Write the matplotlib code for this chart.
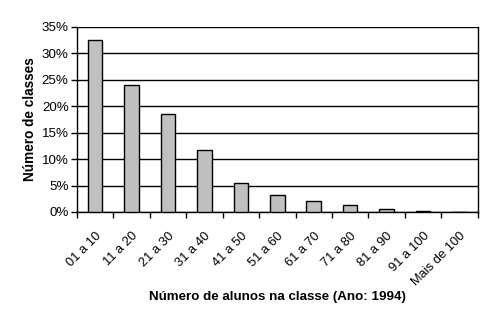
import matplotlib
matplotlib.use('Agg')
import matplotlib.pyplot as plt
from matplotlib.ticker import FuncFormatter
from matplotlib.transforms import ScaledTranslation

categorias = ['01 a 10', '11 a 20', '21 a 30', '31 a 40', '41 a 50', '51 a 60',
              '61 a 70', '71 a 80', '81 a 90', '91 a 100', 'Mais de 100']
percentuais = [32.4, 23.9, 18.6, 11.8, 5.4, 3.3, 2.0, 1.25, 0.5, 0.2, 0.0]
yticks = [0, 5, 10, 15, 20, 25, 30, 35]

plt.rcParams['font.family'] = ['Liberation Sans', 'DejaVu Sans']

fig = plt.figure(figsize=(4.92, 3.23), dpi=100, facecolor='white')
ax = fig.add_axes([77 / 492, 1 - 212 / 323, (477.7 - 77) / 492, (212 - 26.7) / 323])

x = list(range(len(categorias)))
ax.bar(x, percentuais, width=0.4, color='#c0c0c0', edgecolor='black', linewidth=1, zorder=3)

ax.set_xlim(-0.5, len(categorias) - 0.5)
ax.set_ylim(0, 35)
ax.set_yticks(yticks)
ax.yaxis.set_major_formatter(FuncFormatter(lambda v, p: '%d%%' % v))
ax.grid(axis='y', color='black', linewidth=1, zorder=0)

# ticks between categories, labels at category centres
ax.set_xticks([i - 0.5 for i in range(len(categorias) + 1)])
ax.set_xticklabels([])
ax.set_xticks(x, minor=True)
ax.set_xticklabels(categorias, minor=True, rotation=45, ha='right',
                   rotation_mode='anchor', fontsize=9.3)
shift = ScaledTranslation(-0.04, 0, fig.dpi_scale_trans)
for lab in ax.get_xticklabels(minor=True):
    lab.set_transform(lab.get_transform() + shift)
ax.tick_params(axis='x', which='minor', length=0, pad=13)
ax.tick_params(axis='x', which='major', length=4, width=1, direction='out', color='black')
ax.tick_params(axis='y', length=4, width=1, direction='out', labelsize=9.6, pad=2)

for s in ['left', 'bottom', 'right']:
    ax.spines[s].set_linewidth(1)
    ax.spines[s].set_color('black')
ax.spines['top'].set_visible(False)

ax.set_ylabel('Número de classes', fontsize=9.8, fontweight='bold', labelpad=3)
fig.text(277 / 492, 1 - 297 / 323, 'Número de alunos na classe (Ano: 1994)',
         ha='center', va='center', fontsize=9.6, fontweight='bold')

fig.savefig('out.png', dpi=100, facecolor='white')
